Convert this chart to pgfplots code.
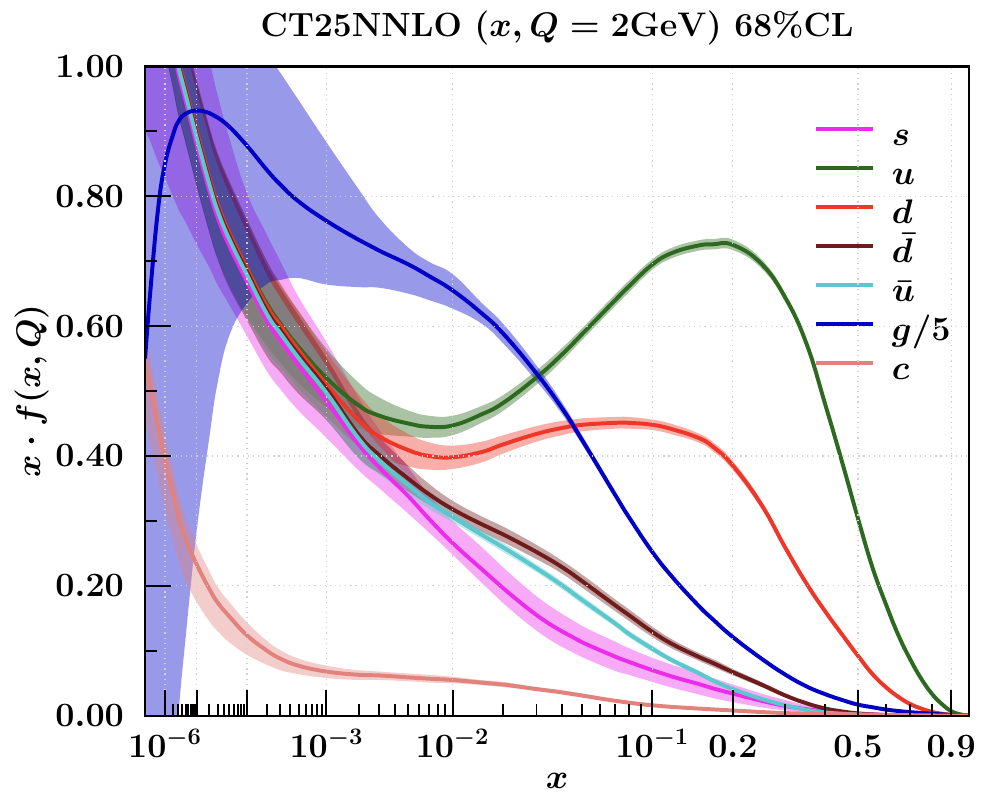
\documentclass[border=0pt]{standalone}
\usepackage{pgfplots}
\pgfplotsset{compat=1.18}
\usepackage{pgfplotstable}
\usepgfplotslibrary{fillbetween}
\definecolor{cS}{RGB}{235,45,235}
\definecolor{cU}{RGB}{45,105,30}
\definecolor{cD}{RGB}{238,55,40}
\definecolor{cDb}{RGB}{110,28,28}
\definecolor{cUb}{RGB}{90,200,205}
\definecolor{cG}{RGB}{0,0,200}
\definecolor{cC}{RGB}{225,130,125}
\pgfplotsset{sm/.style={smooth, tension=0.75}}

\pgfplotstableread{
x y lo hi
1e-7 0.55 -1.0 1.6
2e-7 0.65 -0.8 1.6
5e-7 0.78 -0.5 1.6
1e-6 0.85 -0.3 1.55
2e-6 0.895 -0.12 1.5
3e-6 0.915 0.0 1.45
5e-6 0.927 0.12 1.4
1e-5 0.932 0.285 1.33
2e-5 0.928 0.43 1.25
3e-5 0.921 0.514 1.2
5e-5 0.907 0.585 1.14
1e-4 0.878 0.635 1.08
2e-4 0.840 0.665 1.02
3e-4 0.818 0.671 0.99
5e-4 0.792 0.674 0.948
1e-3 0.762 0.664 0.883
2e-3 0.733 0.660 0.811
3e-3 0.716 0.659 0.766
5e-3 0.695 0.650 0.721
7e-3 0.677 0.640 0.699
1e-2 0.655 0.627 0.680
1.5e-2 0.620 0.604 0.636
2e-2 0.588 0.573 0.603
3e-2 0.527 0.515 0.539
4e-2 0.474 0.465 0.483
5e-2 0.424 0.417 0.431
7e-2 0.340 0.335 0.345
0.08 0.306 0.302 0.310
0.1 0.252 0.248 0.256
0.12 0.213 0.210 0.216
0.15 0.170 0.167 0.173
0.17 0.148 0.146 0.150
0.2 0.121 0.119 0.123
0.25 0.088 0.086 0.090
0.3 0.063 0.062 0.064
0.35 0.045 0.044 0.046
0.4 0.033 0.032 0.034
0.45 0.024 0.023 0.025
0.5 0.017 0.016 0.018
0.55 0.013 0.013 0.013
0.6 0.0095 0.0095 0.0095
0.65 0.0072 0.0072 0.0072
0.7 0.0055 0.0055 0.0055
0.75 0.0042 0.0042 0.0042
0.8 0.003 0.003 0.003
0.85 0.002 0.002 0.002
0.9 0.0012 0.0012 0.0012
0.95 0.0005 0.0005 0.0005
1.0 0.0 0.0 0.0
}\tabG

\pgfplotstableread{
x y lo hi
1e-7 1.27 0.90 1.6
2e-7 1.23 0.885 1.6
5e-7 1.15 0.853 1.55
1e-6 1.09 0.828 1.45
2e-6 1.03 0.799 1.35
3e-6 0.99 0.78 1.28
5e-6 0.947 0.76 1.2
1e-5 0.88 0.726 1.1
2e-5 0.808 0.69 1.01
3e-5 0.767 0.663 0.955
5e-5 0.724 0.633 0.89
1e-4 0.669 0.585 0.805
2e-4 0.608 0.53 0.74
3e-4 0.578 0.503 0.70
5e-4 0.54 0.47 0.645
1e-3 0.484 0.428 0.575
2e-3 0.418 0.378 0.49
3e-3 0.382 0.350 0.44
5e-3 0.338 0.311 0.382
7e-3 0.303 0.282 0.34
1e-2 0.266 0.248 0.30
1.5e-2 0.226 0.205 0.26
2e-2 0.196 0.173 0.228
3e-2 0.155 0.131 0.184
4e-2 0.130 0.106 0.157
5e-2 0.113 0.09 0.138
7e-2 0.091 0.069 0.114
0.08 0.083 0.063 0.104
0.1 0.070 0.052 0.089
0.12 0.060 0.043 0.078
0.15 0.049 0.033 0.066
0.17 0.042 0.027 0.058
0.2 0.034 0.021 0.048
0.25 0.023 0.013 0.034
0.3 0.015 0.008 0.024
0.35 0.010 0.005 0.016
0.4 0.0065 0.003 0.011
0.45 0.0045 0.002 0.0075
0.5 0.003 0.0012 0.005
0.55 0.002 0.0007 0.0035
0.6 0.0012 0.0004 0.0022
0.65 0.0008 0.0002 0.0014
0.7 0.0005 0.0001 0.0009
0.8 0.0002 0 0.0003
0.9 0 0 0
1.0 0 0 0
}\tabS

\pgfplotstableread{
x y e
1e-7 1.28 0.07
2e-7 1.24 0.07
5e-7 1.16 0.07
1e-6 1.10 0.07
2e-6 1.04 0.07
3e-6 1.0 0.07
5e-6 0.957 0.07
1e-5 0.890 0.07
2e-5 0.818 0.07
3e-5 0.777 0.07
5e-5 0.734 0.07
1e-4 0.679 0.065
2e-4 0.618 0.06
3e-4 0.589 0.055
5e-4 0.551 0.05
1e-3 0.497 0.04
2e-3 0.427 0.03
3e-3 0.393 0.022
5e-3 0.355 0.015
7e-3 0.329 0.011
1e-2 0.306 0.008
1.5e-2 0.279 0.007
2e-2 0.259 0.007
3e-2 0.227 0.006
4e-2 0.201 0.006
5e-2 0.178 0.006
7e-2 0.142 0.005
0.08 0.126 0.005
0.1 0.103 0.005
0.12 0.085 0.004
0.15 0.066 0.004
0.17 0.054 0.003
0.2 0.041 0.003
0.25 0.026 0.002
0.3 0.016 0.002
0.35 0.009 0.001
0.4 0.005 0.001
0.45 0.003 0.0005
0.5 0.0017 0.0003
0.55 0.001 0.0002
0.6 0.0005 0.0001
0.7 0.0002 0
0.8 0 0
1.0 0 0
}\tabUb

\pgfplotstableread{
x y e
1e-7 1.285 0.08
2e-7 1.245 0.08
5e-7 1.165 0.08
1e-6 1.105 0.08
2e-6 1.045 0.08
3e-6 1.005 0.08
5e-6 0.962 0.08
1e-5 0.895 0.08
2e-5 0.823 0.08
3e-5 0.782 0.08
5e-5 0.739 0.08
1e-4 0.684 0.075
2e-4 0.623 0.07
3e-4 0.594 0.065
5e-4 0.556 0.06
1e-3 0.503 0.048
2e-3 0.433 0.036
3e-3 0.401 0.028
5e-3 0.365 0.02
7e-3 0.341 0.016
1e-2 0.318 0.013
1.5e-2 0.295 0.012
2e-2 0.279 0.012
3e-2 0.252 0.011
4e-2 0.229 0.010
5e-2 0.207 0.010
7e-2 0.170 0.009
0.08 0.155 0.009
0.1 0.129 0.008
0.12 0.110 0.007
0.15 0.091 0.006
0.17 0.081 0.006
0.2 0.067 0.005
0.25 0.048 0.004
0.3 0.031 0.003
0.35 0.019 0.002
0.4 0.011 0.002
0.45 0.0065 0.001
0.5 0.0035 0.001
0.55 0.002 0.0005
0.6 0.001 0.0003
0.7 0.0003 0.0001
0.8 0.0001 0
0.9 0 0
1.0 0 0
}\tabDb

\pgfplotstableread{
x y e
1e-7 1.29 0.08
2e-7 1.245 0.08
5e-7 1.165 0.08
1e-6 1.105 0.08
2e-6 1.045 0.08
3e-6 1.005 0.08
5e-6 0.962 0.08
1e-5 0.896 0.08
2e-5 0.825 0.08
3e-5 0.785 0.08
5e-5 0.743 0.08
1e-4 0.690 0.075
2e-4 0.634 0.065
3e-4 0.604 0.06
5e-4 0.568 0.055
1e-3 0.520 0.045
2e-3 0.478 0.035
3e-3 0.462 0.028
5e-3 0.450 0.02
7e-3 0.445 0.017
1e-2 0.447 0.015
1.5e-2 0.464 0.013
2e-2 0.482 0.012
3e-2 0.521 0.011
4e-2 0.556 0.010
5e-2 0.588 0.009
7e-2 0.640 0.009
0.08 0.661 0.009
0.1 0.695 0.008
0.12 0.713 0.008
0.15 0.724 0.008
0.17 0.726 0.008
0.2 0.725 0.008
0.25 0.696 0.007
0.3 0.643 0.006
0.35 0.572 0.005
0.4 0.478 0.005
0.45 0.388 0.004
0.5 0.303 0.004
0.55 0.228 0.003
0.6 0.172 0.003
0.65 0.124 0.003
0.7 0.087 0.002
0.75 0.057 0.002
0.8 0.034 0.001
0.85 0.018 0.001
0.9 0.007 0.0005
0.95 0.002 0
1.0 0 0
}\tabU

\pgfplotstableread{
x y e
1e-7 1.29 0.08
2e-7 1.25 0.08
5e-7 1.17 0.08
1e-6 1.11 0.08
2e-6 1.05 0.08
3e-6 1.01 0.08
5e-6 0.967 0.08
1e-5 0.900 0.08
2e-5 0.828 0.08
3e-5 0.787 0.08
5e-5 0.744 0.08
1e-4 0.689 0.075
2e-4 0.630 0.07
3e-4 0.601 0.065
5e-4 0.563 0.06
1e-3 0.510 0.05
2e-3 0.455 0.04
3e-3 0.430 0.032
5e-3 0.409 0.025
7e-3 0.400 0.021
1e-2 0.398 0.018
1.5e-2 0.406 0.016
2e-2 0.418 0.014
3e-2 0.434 0.012
4e-2 0.443 0.011
5e-2 0.448 0.010
7e-2 0.451 0.009
0.08 0.451 0.009
0.1 0.448 0.008
0.12 0.441 0.008
0.15 0.428 0.007
0.17 0.414 0.007
0.2 0.385 0.007
0.25 0.325 0.006
0.3 0.258 0.005
0.35 0.203 0.004
0.4 0.160 0.004
0.45 0.124 0.003
0.5 0.092 0.003
0.55 0.064 0.002
0.6 0.044 0.002
0.65 0.029 0.001
0.7 0.018 0.001
0.75 0.011 0.001
0.8 0.006 0
0.85 0.003 0
0.9 0.0012 0
0.95 0.0004 0
1.0 0 0
}\tabD

\pgfplotstableread{
x y lo hi
1e-7 0.545 0.455 0.595
2e-7 0.505 0.42 0.55
5e-7 0.445 0.365 0.49
1e-6 0.392 0.315 0.432
2e-6 0.342 0.27 0.38
3e-6 0.306 0.24 0.342
5e-6 0.272 0.208 0.305
1e-5 0.233 0.175 0.263
2e-5 0.195 0.145 0.222
3e-5 0.174 0.13 0.198
5e-5 0.153 0.113 0.175
1e-4 0.124 0.094 0.144
2e-4 0.100 0.078 0.115
3e-4 0.088 0.07 0.101
5e-4 0.077 0.064 0.088
1e-3 0.068 0.058 0.077
2e-3 0.063 0.055 0.070
3e-3 0.062 0.055 0.068
5e-3 0.059 0.053 0.065
7e-3 0.057 0.051 0.063
1e-2 0.055 0.050 0.060
1.5e-2 0.051 0.047 0.055
2e-2 0.048 0.044 0.052
3e-2 0.041 0.038 0.044
4e-2 0.036 0.033 0.039
5e-2 0.031 0.028 0.034
7e-2 0.023 0.021 0.025
0.1 0.016 0.014 0.018
0.15 0.011 0.010 0.012
0.2 0.008 0.007 0.009
0.3 0.004 0.0035 0.0045
0.4 0.003 0.0025 0.0035
0.5 0.002 0.0015 0.0025
0.6 0.0013 0.001 0.0016
0.7 0.0008 0.0006 0.001
0.8 0.0004 0.0003 0.0005
0.9 0.0002 0.0001 0.0003
1.0 0 0 0
}\tabC

% band with explicit lo/hi columns
\newcommand{\bandlh}[3]{%
  \addplot[draw=none, forget plot, sm, name path=#3L] table[x expr=\thisrow{x}^0.2, y=lo]{#1};
  \addplot[draw=none, forget plot, sm, name path=#3H] table[x expr=\thisrow{x}^0.2, y=hi]{#1};
  \addplot[fill=#2, fill opacity=0.4, draw=none, forget plot] fill between[of=#3L and #3H];
}
% band with symmetric error column
\newcommand{\bande}[3]{%
  \addplot[draw=none, forget plot, sm, name path=#3L] table[x expr=\thisrow{x}^0.2, y expr=\thisrow{y}-\thisrow{e}]{#1};
  \addplot[draw=none, forget plot, sm, name path=#3H] table[x expr=\thisrow{x}^0.2, y expr=\thisrow{y}+\thisrow{e}]{#1};
  \addplot[fill=#2, fill opacity=0.4, draw=none, forget plot] fill between[of=#3L and #3H];
}

\begin{document}
\fontsize{17}{20}\selectfont\bfseries\boldmath
\begin{tikzpicture}
\begin{axis}[
  scale only axis, width=417.5pt, height=329pt,
  xmin=0.0398107, xmax=1, ymin=0, ymax=1,
  axis on top,
  axis line style={line width=1.2pt},
  tick style={line width=1pt, black},
  tick align=inside,
  xtick pos=left, ytick pos=left,
  major tick length=13pt, minor tick length=6pt,
  xtick={0.0630957,0.1,0.1584893,0.2511886,0.3981072,0.6309573,0.7247797,0.8705506,0.9791484},
  xticklabels={$10^{-6}$,,,$10^{-3}$,$10^{-2}$,$10^{-1}$,$0.2$,$0.5$,$0.9$},
  minor xtick={0.072478,0.078601,0.083255,0.087055,0.090288,0.093115,0.095635,0.097915,
    0.114870,0.124573,0.131951,0.137973,0.143097,0.147577,0.151572,0.155185,
    0.182056,0.197435,0.209128,0.218673,0.226794,0.233895,0.240225,0.245951,
    0.288539,0.312912,0.331445,0.346572,0.359443,0.370697,0.380730,0.389806,
    0.457305,0.495934,0.525305,0.549280,0.569678,0.587515,0.603417,0.617801,
    0.786003,0.832553,0.902880,0.931149,0.956352},
  ytick={0,0.2,0.4,0.6,0.8,1.0},
  minor ytick={0.1,0.3,0.5,0.7,0.9},
  grid=major,
  major grid style={line width=0.6pt, dotted, black!18},
  y tick label style={/pgf/number format/fixed, /pgf/number format/fixed zerofill, /pgf/number format/precision=2},
  xticklabel style={anchor=base, yshift=-21pt, font=\fontsize{17}{20}\selectfont},
  yticklabel style={anchor=east, inner sep=0pt, xshift=-10.5pt, font=\fontsize{17}{20}\selectfont},
  title={CT25NNLO $(x,Q=2\mathrm{GeV})$ 68\%CL},
  title style={at={(0.5,1)}, anchor=base, yshift=9pt, font=\fontsize{17}{20}\selectfont},
  xlabel={$x$},
  xlabel style={at={(rel axis cs:0.5,-0.1003)}, anchor=center, font=\fontsize{17}{20}\selectfont},
  ylabel={$x\cdot f(x,Q)$},
  ylabel style={at={(rel axis cs:-0.1377,0.5)}, anchor=center, font=\fontsize{17}{20}\selectfont},
  legend style={draw=none, fill=none, inner sep=0pt, at={(rel axis cs:0.8118,0.9155)}, anchor=north west,
    row sep=3.75pt, column sep=8.5pt,
    nodes={inner sep=0pt, text height=12pt, text depth=4pt},
    font=\fontsize{17}{20}\selectfont},
  legend cell align=left,
  legend image code/.code={\draw[#1, line width=1.8pt] (0pt,4.3pt) -- (29pt,4.3pt);},
]
\bandlh{\tabS}{cS}{s}
\addplot[cS, line width=2pt, sm] table[x expr=\thisrow{x}^0.2, y=y]{\tabS};
\addlegendentry{$s$}
\bande{\tabU}{cU}{u}
\addplot[cU, line width=2pt, sm] table[x expr=\thisrow{x}^0.2, y=y]{\tabU};
\addlegendentry{$u$}
\bande{\tabD}{cD}{d}
\addplot[cD, line width=2pt, sm] table[x expr=\thisrow{x}^0.2, y=y]{\tabD};
\addlegendentry{$d$}
\bande{\tabDb}{cDb}{db}
\addplot[cDb, line width=2pt, sm] table[x expr=\thisrow{x}^0.2, y=y]{\tabDb};
\addlegendentry{$\bar{d}$}
\bande{\tabUb}{cUb}{ub}
\addplot[cUb, line width=2pt, sm] table[x expr=\thisrow{x}^0.2, y=y]{\tabUb};
\addlegendentry{$\bar{u}$}
\bandlh{\tabG}{cG}{g}
\addplot[cG, line width=2pt, sm] table[x expr=\thisrow{x}^0.2, y=y]{\tabG};
\addlegendentry{$g/5$}
\bandlh{\tabC}{cC}{c}
\addplot[cC, line width=2pt, sm] table[x expr=\thisrow{x}^0.2, y=y]{\tabC};
\addlegendentry{$c$}
\end{axis}
\path (-73.5pt,-39.5pt) rectangle (420pt,359pt);
\end{tikzpicture}
\end{document}
